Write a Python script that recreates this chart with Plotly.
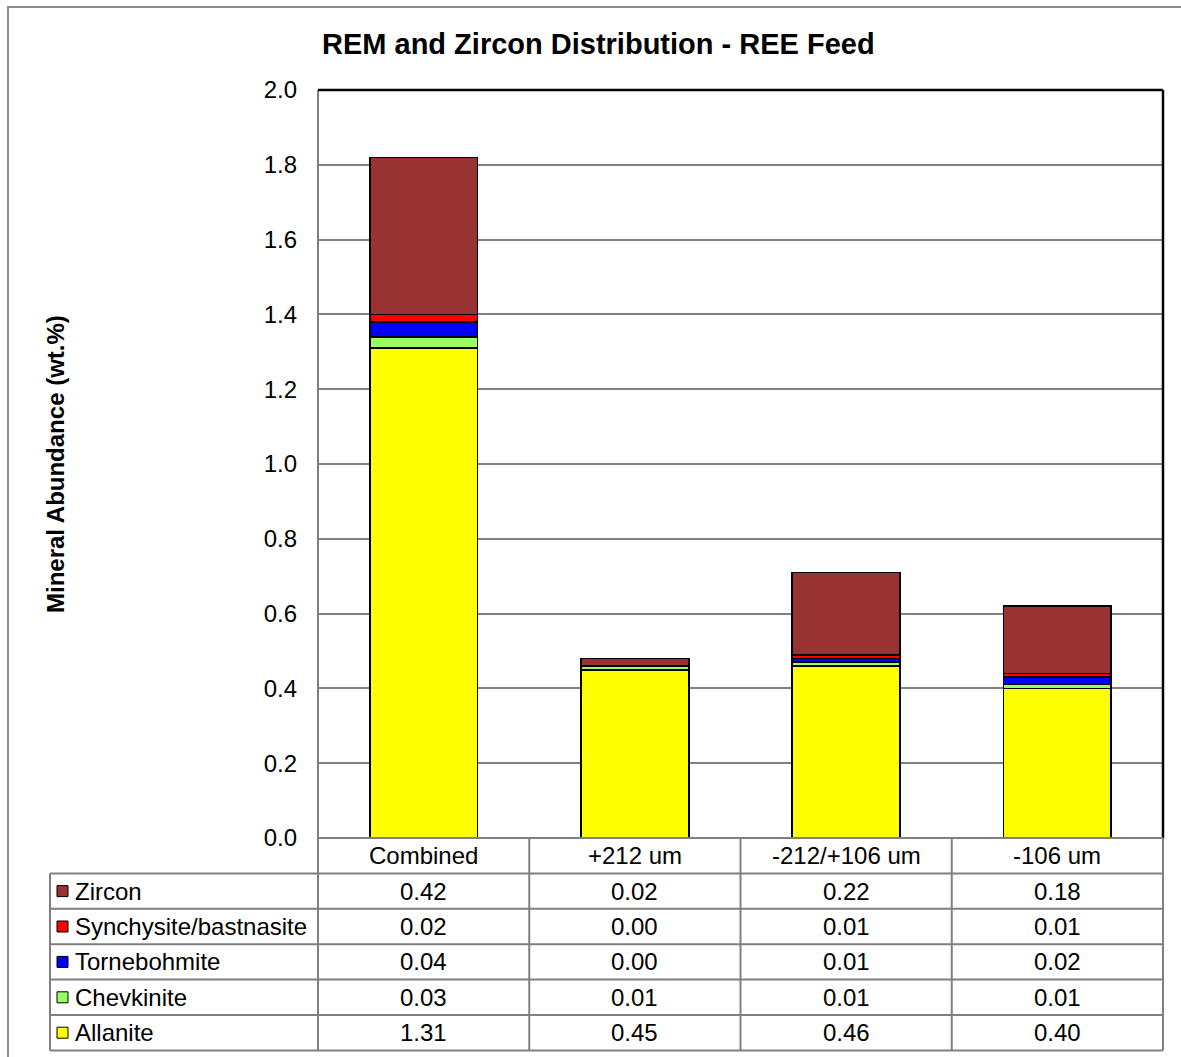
import plotly.graph_objects as go

# ---------------- data ----------------
categories = ["Combined", "+212 um", "-212/+106 um", "-106 um"]
allanite = [1.31, 0.45, 0.46, 0.40]
chevkinite = [0.03, 0.01, 0.01, 0.01]
tornebohmite = [0.04, 0.00, 0.01, 0.02]
synchysite = [0.02, 0.00, 0.01, 0.01]
zircon = [0.42, 0.02, 0.22, 0.18]

series_names = ["Allanite", "Chevkinite", "Tornebohmite", "Synchysite/bastnasite", "Zircon"]
series_values = [allanite, chevkinite, tornebohmite, synchysite, zircon]
series_colors = ["#FFFF00", "#99FF66", "#0000FF", "#FF0000", "#993333"]

y_ticks = [0.0, 0.2, 0.4, 0.6, 0.8, 1.0, 1.2, 1.4, 1.6, 1.8, 2.0]
y_tick_labels = [f"{v:.1f}" for v in y_ticks]

title_text = "REM and Zircon Distribution - REE Feed"
y_title_text = "Mineral Abundance (wt.%)"

# ---------------- layout helpers ----------------
W, H = 1181, 1057
FONT = "Arial, 'Liberation Sans', Helvetica, sans-serif"


def px(x):
    return x / W


def py(y):
    return 1 - y / H


PLOT_L, PLOT_R, PLOT_T, PLOT_B = 318, 1163, 90, 838
TABLE_L = 50
ROW_H = 35.4
GRID = "#808080"

fig = go.Figure()
for name, vals, col in zip(series_names, series_values, series_colors):
    fig.add_trace(go.Bar(
        x=categories, y=vals, name=name,
        marker=dict(color=col, line=dict(color="black", width=1.6)),
        width=0.51, showlegend=False,
    ))

shapes = []
annotations = []

# Plot-area frame
shapes.append(dict(type="line", xref="paper", yref="paper", x0=px(PLOT_L), x1=px(PLOT_L),
                   y0=py(PLOT_T), y1=py(PLOT_B), line=dict(color=GRID, width=2)))
shapes.append(dict(type="line", xref="paper", yref="paper", x0=px(PLOT_L), x1=px(PLOT_R),
                   y0=py(PLOT_T), y1=py(PLOT_T), line=dict(color="black", width=2.5)))
shapes.append(dict(type="line", xref="paper", yref="paper", x0=px(PLOT_R), x1=px(PLOT_R),
                   y0=py(PLOT_T), y1=py(PLOT_B), line=dict(color="black", width=2.5)))

# Outer chart frame
shapes.append(dict(type="rect", xref="paper", yref="paper", x0=px(8), x1=px(1195),
                   y0=py(7), y1=py(1070), line=dict(color="#8c8c8c", width=2), layer="below"))

# Data table
n_rows = len(series_names)
row_edges = [PLOT_B + i * ROW_H for i in range(n_rows + 2)]  # header + rows
table_bottom = row_edges[-1]
shapes.append(dict(type="line", xref="paper", yref="paper", x0=px(PLOT_L), x1=px(PLOT_R),
                   y0=py(PLOT_B), y1=py(PLOT_B), line=dict(color=GRID, width=2)))
for e in row_edges[1:]:
    shapes.append(dict(type="line", xref="paper", yref="paper", x0=px(TABLE_L), x1=px(PLOT_R),
                       y0=py(e), y1=py(e), line=dict(color=GRID, width=2)))
shapes.append(dict(type="line", xref="paper", yref="paper", x0=px(TABLE_L), x1=px(TABLE_L),
                   y0=py(row_edges[1]), y1=py(table_bottom), line=dict(color=GRID, width=2)))
for xv in [PLOT_L, PLOT_R]:
    shapes.append(dict(type="line", xref="paper", yref="paper", x0=px(xv), x1=px(xv),
                       y0=py(PLOT_B), y1=py(table_bottom), line=dict(color=GRID, width=2)))
for i in range(len(categories) - 1):
    shapes.append(dict(type="line", xref="x", yref="paper", x0=i + 0.5, x1=i + 0.5,
                       y0=py(PLOT_B), y1=py(table_bottom), line=dict(color=GRID, width=2)))

TFS = 24
hc = (row_edges[0] + row_edges[1]) / 2
for c in categories:
    annotations.append(dict(x=c, y=py(hc), xref="x", yref="paper", text=c, showarrow=False,
                            font=dict(family=FONT, size=TFS, color="black"),
                            xanchor="center", yanchor="middle"))

table_order = list(range(n_rows))[::-1]
for r, si in enumerate(table_order):
    rc = (row_edges[r + 1] + row_edges[r + 2]) / 2
    shapes.append(dict(type="rect", xref="paper", yref="paper", x0=px(57), x1=px(68),
                       y0=py(rc - 5.5), y1=py(rc + 5.5),
                       fillcolor=series_colors[si], line=dict(color="black", width=1)))
    annotations.append(dict(x=px(73), y=py(rc), xref="paper", yref="paper",
                            text=series_names[si], showarrow=False,
                            font=dict(family=FONT, size=TFS, color="black"),
                            xanchor="left", yanchor="middle"))
    for c, v in zip(categories, series_values[si]):
        annotations.append(dict(x=c, y=py(rc), xref="x", yref="paper", text=f"{v:.2f}",
                                showarrow=False, font=dict(family=FONT, size=TFS, color="black"),
                                xanchor="center", yanchor="middle"))

annotations.append(dict(x=px(598), y=py(44), xref="paper", yref="paper",
                        text=f"<b>{title_text}</b>", showarrow=False,
                        font=dict(family=FONT, size=29, color="black"),
                        xanchor="center", yanchor="middle"))
annotations.append(dict(x=px(56), y=py((PLOT_T + PLOT_B) / 2), xref="paper", yref="paper",
                        text=f"<b>{y_title_text}</b>", showarrow=False, textangle=-90,
                        font=dict(family=FONT, size=24, color="black"),
                        xanchor="center", yanchor="middle"))

fig.update_layout(
    width=W, height=H,
    margin=dict(l=0, r=0, t=0, b=0, autoexpand=False),
    paper_bgcolor="white", plot_bgcolor="white",
    barmode="stack",
    font=dict(family=FONT, color="black"),
    xaxis=dict(domain=[px(PLOT_L), px(PLOT_R)], type="category", range=[-0.5, 3.5],
               showticklabels=False, showgrid=False, zeroline=False, showline=False, ticks="",
               automargin=False),
    yaxis=dict(domain=[py(PLOT_B), py(PLOT_T)], range=[0, 2], tickvals=y_ticks,
               ticktext=y_tick_labels, showgrid=True, gridcolor=GRID, gridwidth=1.5,
               zeroline=False, showline=False, ticks="", ticklabelstandoff=20,
               tickfont=dict(family=FONT, size=24, color="black"), automargin=False),
    shapes=shapes,
    annotations=annotations,
)

post = (
    "document.documentElement.style.margin='0';"
    "document.body.style.margin='0';"
    "document.documentElement.style.overflow='hidden';"
    "document.body.style.overflow='hidden';"
    "var d=document.getElementsByClassName('plotly-graph-div')[0];"
    "d.style.position='fixed';d.style.top='0px';d.style.left='0px';"
)

fig.write_html("out.html", config={"displayModeBar": False}, post_script=post)
